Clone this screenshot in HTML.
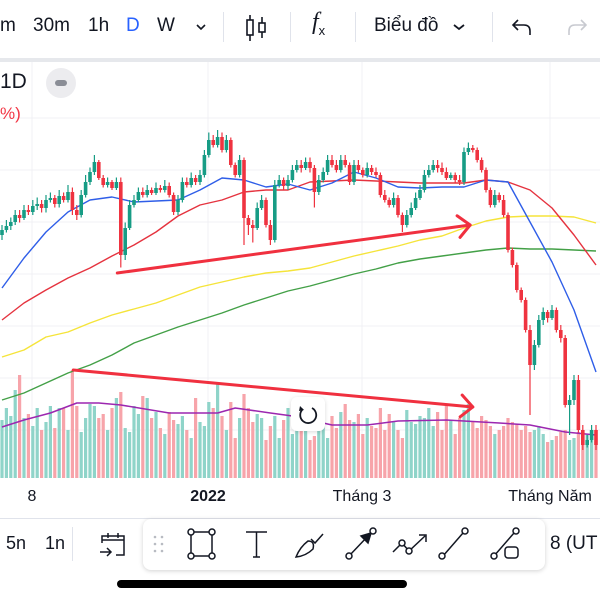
<!DOCTYPE html>
<html><head><meta charset="utf-8">
<style>
html,body{margin:0;padding:0;width:600px;height:600px;overflow:hidden;background:#fff;font-family:"Liberation Sans","Noto Sans CJK SC",sans-serif;color:#131722}
.abs{position:absolute}
#top{position:absolute;left:0;top:0;width:600px;height:58px;background:#fff;border-bottom:4px solid #e6e8ec}
.tb{position:absolute;top:14px;font-size:19px;line-height:24px}
.sep{position:absolute;top:12px;width:1px;height:30px;background:#e0e3eb}
#chart{position:absolute;left:0;top:62px}
#axis{position:absolute;left:0;top:478px;width:600px;height:40px;border-bottom:1px solid #e0e3eb}
.al{position:absolute;top:10px;font-size:16px;transform:translateX(-50%);white-space:nowrap}
#bottom{position:absolute;left:0;top:519px;width:600px;height:81px}
#panel{position:absolute;left:143px;top:0;width:402px;height:51px;background:#fff;border-radius:8px;box-shadow:0 1px 5px rgba(0,0,0,0.18)}
</style></head><body>
<div id="top">
 <span class="tb" style="left:0">m</span>
 <span class="tb" style="left:33px">30m</span>
 <span class="tb" style="left:88px">1h</span>
 <span class="tb" style="left:126px;color:#2962ff">D</span>
 <span class="tb" style="left:157px">W</span>
 <svg class="abs" style="left:195px;top:22px" width="12" height="10"><path d="M2 3 L6 7 L10 3" fill="none" stroke="#131722" stroke-width="1.6"/></svg>
 <div class="sep" style="left:223px"></div>
 <svg class="abs" style="left:244px;top:14px" width="26" height="28"><g fill="none" stroke="#131722" stroke-width="1.6"><rect x="3" y="6" width="6" height="15"/><line x1="6" y1="1" x2="6" y2="6"/><line x1="6" y1="21" x2="6" y2="27"/><rect x="15" y="9" width="6" height="9"/><line x1="18" y1="3" x2="18" y2="9"/><line x1="18" y1="18" x2="18" y2="24"/></g></svg>
 <div class="sep" style="left:290px"></div>
 <span class="tb" style="left:312px;font-family:'Liberation Serif',serif;font-style:italic;font-size:24px;top:10px">f<sub style="font-size:13px;font-style:normal;font-family:'Liberation Sans'">x</sub></span>
 <div class="sep" style="left:355px"></div>
 <span class="tb" style="left:374px">Biểu đồ</span>
 <svg class="abs" style="left:452px;top:22px" width="14" height="10"><path d="M2 3 L7 7 L12 3" fill="none" stroke="#131722" stroke-width="1.8"/></svg>
 <div class="sep" style="left:492px"></div>
 <svg class="abs" style="left:510px;top:16px" width="24" height="22"><path d="M8 4 L3 9 L8 14 M3 9 H14 Q20 9 20 15 V19" fill="none" stroke="#131722" stroke-width="1.6"/></svg>
 <svg class="abs" style="left:565px;top:16px" width="24" height="22"><path d="M16 4 L21 9 L16 14 M21 9 H10 Q4 9 4 15 V19" fill="none" stroke="#c8cad0" stroke-width="1.6"/></svg>
</div>

<svg id="chart" width="600" height="416" viewBox="0 62 600 416"></svg>

<div class="abs" style="left:0;top:70px;font-size:21px">1D</div>
<div class="abs" style="left:46px;top:68px;width:30px;height:30px;border-radius:15px;background:#ececef"><div style="position:absolute;left:9px;top:12px;width:12px;height:6px;border-radius:3px;background:#8a8d96"></div></div>
<div class="abs" style="left:0;top:104px;font-size:17px;color:#f23645">%)</div>
<div class="abs" style="left:291px;top:397px;width:34px;height:34px;background:#fff;border-radius:6px;box-shadow:0 1px 4px rgba(0,0,0,0.15)"><svg width="34" height="34"><path d="M12 12 A8 8 0 1 0 21 11" fill="none" stroke="#131722" stroke-width="1.8"/><path d="M9 9 L13 13 L8 14 Z" fill="#131722"/></svg></div>

<div id="axis">
 <span class="al" style="left:32px">8</span>
 <span class="al" style="left:208px;font-weight:bold">2022</span>
 <span class="al" style="left:362px">Tháng 3</span>
 <span class="al" style="left:550px">Tháng Năm</span>
</div>

<div id="bottom">
 <span class="abs" style="left:6px;top:14px;font-size:18px">5n</span>
 <span class="abs" style="left:45px;top:14px;font-size:18px">1n</span>
 <div class="abs" style="left:72px;top:8px;width:1px;height:34px;background:#e0e3eb"></div>
 <svg class="abs" style="left:98px;top:10px" width="30" height="32"><g fill="none" stroke="#131722" stroke-width="1.5"><path d="M4 14 V7 H26 V26 H18"/><line x1="4" y1="11" x2="26" y2="11"/><line x1="10" y1="4" x2="10" y2="9"/><line x1="20" y1="4" x2="20" y2="9"/><path d="M2 23 H13 M9 19 L13 23 L9 27"/></g></svg>
 <div id="panel">
  <svg width="402" height="51">
   <g fill="#b8bbc2"><circle cx="12" cy="18" r="1.3"/><circle cx="19" cy="18" r="1.3"/><circle cx="12" cy="25" r="1.3"/><circle cx="19" cy="25" r="1.3"/><circle cx="12" cy="32" r="1.3"/><circle cx="19" cy="32" r="1.3"/></g>
   <g fill="#fff" stroke="#131722" stroke-width="1.5">
    <g><rect x="48" y="13" width="21" height="24" fill="none"/><circle cx="48" cy="13" r="3"/><circle cx="69" cy="13" r="3"/><circle cx="48" cy="37" r="3"/><circle cx="69" cy="37" r="3"/></g>
    <g fill="none"><path d="M103 13 H124 M113.5 13 V38 M110 38 H117"/></g>
    <g fill="none"><path d="M153 38 Q157 28 165 22 Q172 22 170 30 Q163 37 153 38 Z M168 20 L172 24 L180 15"/></g>
    <g><line x1="206" y1="37" x2="225" y2="17"/><path d="M218 17 L228 14 L225 24 Z" fill="#131722"/><circle cx="206" cy="37" r="3"/><circle cx="230" cy="12" r="3"/></g>
    <g><path d="M250 33 L259 24 L266 32 L282 17 M276 16 H283 V23" fill="none"/><circle cx="259" cy="24" r="3"/><circle cx="266" cy="32" r="3"/></g>
    <g><line x1="300" y1="37" x2="320" y2="14"/><circle cx="299" cy="37" r="3"/><circle cx="322" cy="12" r="3"/></g>
    <g><line x1="351" y1="37" x2="371" y2="14"/><circle cx="351" cy="37" r="3"/><circle cx="373" cy="12" r="3"/><rect x="362" y="28" width="13" height="11" rx="3"/></g>
   </g>
  </svg>
 </div>
 <span class="abs" style="left:550px;top:14px;font-size:19px;white-space:nowrap">8 (UT</span>
 <div class="abs" style="left:117px;top:61px;width:290px;height:8px;border-radius:4px;background:#000"></div>
</div>

<script>
// ---- chart data (price units; candle index on x) ----
const closes=[74,74.8,75.6,77,76.4,78,77.6,78.8,79.2,78.4,
80,80.4,79.2,80.8,80,81.6,78,77,81,83.6,
85.6,87.6,84.4,83,83.6,82.4,83.6,69,74.4,79,
80,81.6,81,82,81.4,82.4,82,82.8,81,77.6,
80,83.6,83,84.4,83.6,85,89,92,91,92.6,
90,92,87,85,88,76.4,75,74.4,78.4,80,
75,72,83,84,82.8,84,86,87,86.4,87.6,
86.4,81.6,84,85.6,88,87,86,88,87,83.6,
87,86,85,86.4,85.6,85,81,80,79,80.4,
77,75,77,78.4,80.4,82,85,86,87,86.4,
85.6,84.4,85,84,83.6,89.6,90.4,90,88,86,
82,79,81,80,77,70,67,62,60,54,
47,51,56,57.6,56.4,58,54,52.4,39,40,
44,34,31,32,34,31];
const opens=[73,74,74.8,75.6,77,76.4,78,77.6,78.8,79.2,
78.4,80,80.4,79.2,80.8,80,81.6,78,77,81,
83.6,85.6,87.6,84.4,83,83.6,82.4,83.6,69,74.4,
79,80,81.6,81,82,81.4,82.4,82,82.8,81,
77.6,80,83.6,83,84.4,83.6,85,89,92,91,
92.6,90,92,87,85,88,76.4,75,74.4,78.4,
80,75,72,83,84,82.8,84,86,87,86.4,
87.6,86.4,81.6,84,85.6,88,87,86,88,87,
83.6,87,86,85,86.4,85.6,85,81,80,79,
80.4,77,75,77,78.4,80.4,82,85,86,87,
86.4,85.6,84.4,85,84,83.6,89.6,90.4,90,88,
86,82,79,81,80,77,70,67,62,60,
54,47,51,56,57.6,56.4,58,54,52.4,39,
40,44,34,31,32,34];
const highs=[75,76,76.5,78,78,79,79,80,80.5,80,
81,81.5,81,82,81.5,83,82.5,79,82,85,
86.5,89,88,85,84.5,84,84.5,84.5,75.5,80,
81,82.5,82.5,83,82.5,83.5,83,84,83.5,81.5,
81,84.5,84.5,85.5,85,86,90,93.5,93,94,
93.5,93,92.5,87.5,89,88.5,77,76,79.5,81,
80.5,76,84,85,84.5,85,87,88,88,88.5,
88.5,87,85,86.5,89,89,88,89,89,87.5,
88,88,86.5,87.5,87,86.5,85.5,82,80.5,81.5,
81,77.5,78,79.5,81.5,83,86,87,88,88,
87.5,86.5,85.5,85.5,85,90.5,91.5,91,90.5,88.5,
86.5,82.5,82,81.5,81,77.5,70.5,67.5,62.5,60.5,
55,52,57,58.5,58,59,58.5,55,53,41,
45,45,35,33,35,35];
const lows=[72,73.5,74,75,75.5,76,77,77,78,77.5,
77.5,79.5,78.5,78.5,79.5,79.5,77,76,76.5,80.5,
83,85,84,82.5,82.5,82,82,66.5,68,74,
78.5,79.5,80.5,80.5,81,81,81.5,81.5,80.5,77,
77,79.5,82.5,82.5,83,83,84.5,88.5,90.5,90.5,
89.5,89.5,86.5,84.5,84.5,71,73,71.5,74,78,
74.5,71,71.5,82.5,82,82,83.5,85.5,85.5,86,
85.5,78.5,81,83.5,85,86.5,85.5,85.5,86.5,83,
83,85.5,84.5,84.5,85,84.5,80.5,79.5,78.5,78.5,
76.5,73.6,74.5,76.5,78,80,81.5,84.5,85.5,85.5,
85,84,84,83.5,83,83,89,89.5,87.5,85.5,
81.5,78.5,78.5,79.5,76.5,69.5,66.5,61.5,59.5,53.5,
37,46,50.5,55,55.5,56,53.5,51.5,38.5,33,
39,33.5,30,30.5,31.5,30];
const volumes=[58,70,62,88,103,60,64,52,70,48,
56,72,50,70,70,48,108,72,46,60,
74,72,60,64,48,70,80,86,50,46,
72,64,82,80,60,66,50,44,66,58,
54,62,48,40,80,56,52,76,70,95,
62,48,76,40,60,84,70,56,64,60,
38,52,62,40,58,70,44,68,64,52,
38,42,78,60,40,62,50,66,74,58,
56,64,44,60,52,50,70,48,64,56,
48,40,68,56,54,62,60,70,52,66,
48,72,58,44,60,68,74,56,50,62,
58,52,44,48,52,60,56,54,48,52,
46,48,52,44,36,38,42,46,48,38,
40,46,42,44,38,40];
const maIdx=[0,5,10,15,20,25,30,35,40,45,50,55,60,65,70,75,80,85,90,95,100,105,110,115,120,125,130,135];
const ma20=[62.4,68.4,73.6,77.6,80,80.6,79.6,79.8,80,82,84.4,84,82.6,83.2,82,83.4,85.6,84.4,82.6,82.4,82.6,82.6,84,83.6,75.6,67.6,58,45.6];
const ma50=[56,59.4,62,64.4,66.4,68.8,71,73.6,76.8,79,80,81.6,82,82,83.6,83.8,84,83.8,83.6,83.4,83.4,83.4,84,83.6,82,78.4,73,67];
const ma100=[48.6,50,52.6,53.6,55.4,57,58.2,59.4,61,62.6,63.6,64.6,65.4,65.8,66.4,67.6,68.8,69.8,70.8,72,72.8,74.4,75.8,76.6,76.8,76.8,76.6,75.4];
const ma200=[40,41.4,43.4,45.4,47,49,51.4,53,54.6,56,57.4,59,60.4,61.8,62.8,64,65.2,66.2,67.4,68.2,68.8,69.4,70,70.4,70.2,70.2,70,69.8];
const volMaIdx=[0,5,11,17,22,27,38,49,53,61,66,75,83,90,101,113,120,128,135];
const volMa=[51,58,65,75,75,73,65,65,70,65,62,53,53,57,58,55,53,46,43];
// trend-line annotations (candle index, price)
const trendPrice=[[26.2,65.4],[106.4,75]];
const trendVol=[[16.2,108],[107,71]];

const svg=document.getElementById('chart');
const NS='http://www.w3.org/2000/svg';
const xS=i=>2+4.4*i;
const yS=p=>600-5*p;
const vS=v=>478-v;
function mk(tag,attrs,parent){const e=document.createElementNS(NS,tag);for(const k in attrs)e.setAttribute(k,attrs[k]);(parent||svg).appendChild(e);return e;}

// grid
const grid=mk('g',{stroke:'#f0f1f4','stroke-width':1});


[32,208,362,550].forEach(x=>mk('line',{x1:x,y1:62,x2:x,y2:478},grid));
[118,170,222,274,326,378,430].forEach(y=>mk('line',{x1:0,y1:y,x2:600,y2:y},grid));

// volume bars
const vg=mk('g',{});


volumes.forEach((v,i)=>{const up=closes[i]>=opens[i];
 const r=mk('rect',{x:xS(i)-1.6,y:vS(v),width:3.2,height:v,fill:up?'#8fd4c9':'#f7a4aa'},vg);
 
 });

function line(idx,vals,color,name,sy,w){
 const p=mk('polyline',{points:idx.map((i,k)=>xS(i)+','+sy(vals[k])).join(' '),fill:'none',stroke:color,'stroke-width':w||1.4,'stroke-linejoin':'round'});
 
 
}
line(volMaIdx,volMa,'#9c27b0','volume-ma-line',vS,1.5);
line(maIdx,ma200,'#43a047','ma200-line',yS);
line(maIdx,ma100,'#f5e43a','ma100-line',yS);
line(maIdx,ma50,'#e5333f','ma50-line',yS);
line(maIdx,ma20,'#2f5ee8','ma20-line',yS);

// candles
const cg=mk('g',{});


closes.forEach((c,i)=>{const o=opens[i];const up=c>=o;const col=up?'#179c85':'#ef3340';
 const g=mk('g',{},cg);
 
 
 mk('line',{x1:xS(i),x2:xS(i),y1:yS(highs[i]),y2:yS(lows[i]),stroke:col,'stroke-width':1.2},g);
 const top=yS(Math.max(o,c)),h=Math.max(1.5,Math.abs(yS(o)-yS(c)));
 mk('rect',{x:xS(i)-1.8,y:top,width:3.6,height:h,fill:col},g);});

// annotations
function arrow(pts,sy,name){
 const [a,b]=pts;const x1=xS(a[0]),y1=sy(a[1]),x2=xS(b[0]),y2=sy(b[1]);
 const g=mk('g',{stroke:'#f0303f','stroke-width':3,fill:'none','stroke-linecap':'round','stroke-linejoin':'round'});
 
 
 mk('line',{x1,y1,x2,y2},g);
 const ang=Math.atan2(y2-y1,x2-x1),L=16,s=0.75;
 mk('polyline',{points:`${x2-L*Math.cos(ang-s)},${y2-L*Math.sin(ang-s)} ${x2},${y2} ${x2-L*Math.cos(ang+s)},${y2-L*Math.sin(ang+s)}`},g);
}
arrow(trendPrice,yS,'price-trend-arrow');
arrow(trendVol,vS,'volume-trend-arrow');
</script>
</body></html>
